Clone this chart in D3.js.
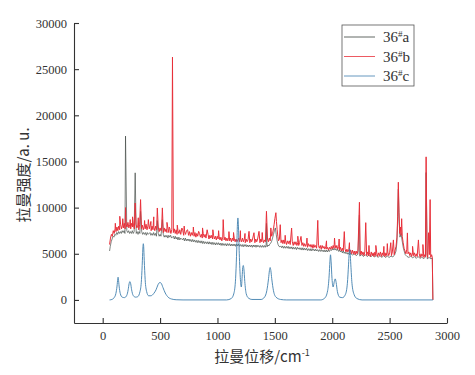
<!DOCTYPE html>
<html>
<head>
<meta charset="utf-8">
<script src="https://cdn.jsdelivr.net/npm/d3@7"></script>
<style>
  body { margin: 0; background: #fff; }
  svg { display: block; }
</style>
</head>
<body>
<div id="chart"></div>
<script>
// Series labels, in legend order.
const seriesNames = ['a', 'b', 'c'];

// 36#a spectrum (Raman shift, intensity).
const dataA = [
  [60,5300],[66,5800],[74,6300],[82,6600],[90,6900],[98,6800],[106,7100],[114,7000],[122,7300],[130,7100],
  [138,7400],[146,7200],[154,7400],[162,7200],[170,7500],[178,7300],[186,7500],[194,7200],[210,7500],
  [218,7300],[226,7500],[234,7200],[242,7400],[250,7200],[258,7500],[266,7200],[274,7400],[292,7200],
  [300,7400],[308,7100],[316,7400],[324,7200],[340,7400],[348,7100],[356,7300],[364,7100],[372,7300],
  [380,7000],[388,7300],[396,7100],[412,7300],[420,7000],[428,7200],[436,7000],[444,7300],[452,7000],
  [460,7200],[468,6900],[484,7200],[492,6900],[500,7100],[508,6900],[528,7100],[536,6800],[544,7000],
  [552,6800],[560,7000],[568,6700],[576,7000],[584,6800],[592,7000],[600,6700],[616,6900],[624,6600],
  [632,6900],[640,6600],[648,6800],[656,6500],[664,6800],[672,6500],[680,6700],[696,6500],[704,6700],
  [712,6400],[720,6700],[728,6400],[736,6600],[744,6400],[752,6600],[760,6350],[768,6550],[776,6300],
  [784,6550],[792,6300],[800,6500],[808,6250],[816,6450],[824,6200],[832,6450],[840,6200],[848,6400],
  [856,6150],[864,6400],[872,6100],[880,6350],[888,6100],[896,6300],[904,6100],[912,6300],[920,6050],
  [928,6300],[936,6050],[944,6250],[952,6000],[960,6250],[968,6000],[976,6200],[984,5950],[992,6200],
  [1000,6000],[1008,6200],[1016,5950],[1024,6150],[1032,5900],[1040,6150],[1048,5900],[1056,6100],
  [1064,5900],[1072,6100],[1080,5850],[1088,6100],[1096,5900],[1104,6100],[1112,5850],[1120,6050],
  [1128,5850],[1136,6050],[1144,5850],[1152,6050],[1160,5800],[1168,6050],[1176,5850],[1184,6050],
  [1192,5800],[1200,6000],[1208,5800],[1216,6000],[1224,5750],[1232,6000],[1240,5800],[1248,6000],
  [1256,5750],[1264,5950],[1272,5750],[1280,5950],[1288,5750],[1296,5950],[1304,5700],[1312,5950],
  [1320,5750],[1328,5950],[1336,5700],[1344,5950],[1352,5750],[1360,5900],[1368,5700],[1376,5900],
  [1384,5700],[1392,5900],[1400,5700],[1408,5900],[1416,5700],[1424,5950],[1432,5750],[1440,5950],
  [1448,5850],[1456,6050],[1464,6150],[1472,6350],[1480,6700],[1488,7100],[1496,7500],[1504,7800],
  [1512,7100],[1520,6400],[1528,6000],[1536,5800],[1544,5750],[1552,5850],[1560,5650],[1568,5850],
  [1576,5600],[1584,5800],[1592,5600],[1600,5800],[1608,5600],[1616,5800],[1624,5550],[1632,5750],
  [1640,5550],[1648,5750],[1656,5500],[1664,5700],[1672,5500],[1680,5700],[1688,5450],[1696,5700],
  [1704,5500],[1712,5650],[1720,5450],[1728,5650],[1736,5400],[1744,5650],[1752,5400],[1760,5600],
  [1768,5400],[1776,5600],[1784,5350],[1792,5550],[1800,5350],[1808,5550],[1816,5300],[1824,5550],
  [1832,5350],[1840,5500],[1848,5300],[1856,5500],[1864,5300],[1872,5450],[1880,5250],[1888,5450],
  [1896,5250],[1904,5450],[1912,5250],[1920,5400],[1928,5200],[1936,5400],[1944,5200],[1952,5400],
  [1960,5200],[1968,5400],[1976,5250],[1984,5450],[1992,5350],[2000,5550],[2008,5400],[2016,5600],
  [2024,5400],[2032,5550],[2040,5350],[2048,5500],[2056,5250],[2064,5400],[2072,5200],[2080,5350],
  [2088,5100],[2096,5300],[2104,5050],[2112,5200],[2120,5000],[2128,5150],[2136,4950],[2144,5100],
  [2152,4900],[2160,5050],[2176,4850],[2192,5000],[2208,4800],[2224,4950],[2240,4750],[2256,4900],
  [2272,4700],[2288,4900],[2304,4700],[2320,4850],[2336,4650],[2352,4850],[2368,4650],[2384,4800],
  [2400,4600],[2416,4800],[2432,4600],[2448,4800],[2464,4600],[2480,4750],[2496,4600],[2512,4750],
  [2528,4650],[2544,4900],[2556,5300],[2564,6300],[2570,8500],[2576,12000],[2582,8800],[2590,6800],
  [2600,7200],[2608,6500],[2620,5600],[2636,4900],[2652,4700],[2668,4600],[2684,4750],[2700,4550],
  [2716,4700],[2732,4500],[2748,4700],[2764,4500],[2780,4650],[2796,4450],[2812,4650],[2828,4450],
  [2844,4600],[2860,4450],[2872,4550],[2877,0]
];
// 36#a sharp lines.
const spikesA = [
  [199,17750],[283,13770],[330,9600],[476,8600],[520,8700],[1427,8300],[2237,9200],[2818,13800]
];

// 36#b spectrum.
const dataB = [
  [60,6000],[68,6700],[76,7100],[84,6900],[92,7500],[100,7200],[108,7700],[116,7400],[124,7900],[132,7500],
  [140,8000],[148,7600],[156,8200],[164,7700],[172,8100],[180,7800],[188,8300],[196,7700],[204,8200],
  [212,7900],[220,8400],[228,7800],[236,8200],[244,7700],[252,8300],[260,7900],[268,8100],[276,7700],
  [290,8200],[298,7800],[306,8100],[314,7600],[322,8200],[338,7700],[346,8100],[354,7600],[362,8000],
  [370,7700],[378,8200],[386,7600],[394,8000],[406,7700],[414,8100],[422,7500],[430,8000],[438,7600],
  [446,7900],[454,7500],[462,8000],[470,7600],[484,7900],[492,7400],[500,7800],[508,7500],[514,7900],
  [528,7300],[536,7800],[544,7400],[552,7700],[560,7300],[568,7800],[576,7300],[586,7700],[594,7200],
  [602,7600],[616,7300],[624,7700],[632,7200],[640,7600],[648,7100],[656,7500],[664,7200],[672,7600],
  [680,7100],[698,7500],[706,7000],[714,7400],[722,7100],[730,7500],[748,7000],[756,7400],[764,6900],
  [772,7300],[780,7000],[788,7400],[796,6900],[804,7300],[812,6800],[820,7200],[828,6900],[844,7200],
  [852,6800],[860,7100],[868,6700],[876,7200],[884,6800],[892,7100],[900,6700],[918,7100],[926,6600],
  [934,7000],[942,6700],[950,7000],[958,6600],[966,7000],[974,6600],[982,6900],[990,6500],[998,6900],
  [1006,6600],[1014,6900],[1022,6500],[1030,6800],[1038,6400],[1046,6800],[1058,6500],[1066,6800],
  [1074,6400],[1082,6700],[1090,6400],[1098,6800],[1106,6400],[1114,6700],[1122,6300],[1130,6700],
  [1138,6400],[1146,6700],[1154,6300],[1162,6600],[1170,6300],[1186,6700],[1194,6300],[1202,6600],
  [1210,6300],[1218,6700],[1226,6300],[1234,6600],[1242,6200],[1250,6600],[1258,6300],[1266,6500],
  [1282,6200],[1290,6600],[1298,6300],[1306,6600],[1326,6200],[1334,6600],[1342,6300],[1350,6600],
  [1370,6200],[1378,6600],[1386,6300],[1394,6600],[1402,6200],[1410,6500],[1418,6300],[1436,6600],
  [1444,6300],[1452,6700],[1460,6400],[1472,6900],[1480,7200],[1488,7700],[1494,8200],[1500,8800],
  [1509,9450],[1514,8500],[1520,7600],[1526,6900],[1532,6400],[1540,6600],[1554,6200],[1562,6500],
  [1570,6100],[1578,6500],[1586,6100],[1594,6400],[1602,6000],[1610,6400],[1618,6100],[1626,6400],
  [1634,6000],[1652,6300],[1660,5900],[1668,6300],[1676,6000],[1684,6300],[1692,5900],[1700,6200],
  [1708,5900],[1716,6200],[1736,5900],[1744,6200],[1752,5800],[1760,6100],[1768,5800],[1776,6100],
  [1784,5700],[1792,6100],[1800,5800],[1808,6000],[1816,5700],[1824,6000],[1832,5600],[1840,6000],
  [1848,5700],[1856,5900],[1864,5600],[1880,5900],[1888,5600],[1896,5900],[1904,5500],[1912,5900],
  [1920,5600],[1928,5800],[1936,5500],[1944,5800],[1952,5500],[1960,5700],[1968,5400],[1976,5700],
  [1984,5500],[1992,5800],[2000,5500],[2008,5900],[2016,5600],[2024,6000],[2032,5600],[2040,5900],
  [2048,5500],[2056,5800],[2064,5400],[2072,5700],[2080,5300],[2088,5600],[2096,5300],[2112,5500],
  [2120,5200],[2128,5500],[2136,5200],[2144,5400],[2152,5100],[2160,5400],[2168,5000],[2176,5400],
  [2184,5000],[2192,5300],[2200,4900],[2208,5300],[2216,5000],[2224,5300],[2244,4900],[2252,5300],
  [2260,4900],[2268,5200],[2276,4800],[2284,5200],[2300,4800],[2308,5200],[2316,4800],[2324,5100],
  [2332,4700],[2340,5200],[2348,4800],[2356,5100],[2364,4700],[2372,5200],[2380,4800],[2388,5100],
  [2396,4700],[2404,5100],[2412,4800],[2420,5200],[2428,4700],[2436,5100],[2444,4800],[2452,5200],
  [2460,4700],[2468,5100],[2476,4800],[2484,5200],[2492,4800],[2500,5100],[2516,4800],[2524,5200],
  [2540,4900],[2548,5400],[2556,5800],[2564,6800],[2570,9000],[2576,12750],[2582,9500],[2588,7200],
  [2594,7900],[2600,7000],[2605,8800],[2610,6900],[2618,6200],[2626,5600],[2634,5300],[2642,5000],
  [2650,5500],[2660,5000],[2668,5200],[2676,4800],[2684,5100],[2692,4700],[2700,5100],[2708,4800],
  [2716,5100],[2724,4700],[2732,5000],[2740,4700],[2758,5000],[2766,4600],[2774,5000],[2782,4700],
  [2790,5000],[2798,4600],[2806,4900],[2812,4700],[2826,4900],[2832,4600],[2846,4900],[2858,4600],
  [2866,4900],[2872,4600],[2877,0]
];
// 36#b sharp lines.
const spikesB = [
  [110,8300],[149,9060],[175,8800],[199,10000],[240,8700],[260,9000],[283,10500],[310,8900],
  [330,10870],[365,8600],[398,8700],[420,8500],[445,9000],[476,9960],[520,9970],[560,8400],
  [580,7900],[608,26300],[650,8100],[690,7790],[710,8000],[740,7600],[790,7900],[836,7430],
  [870,7800],[910,7600],[960,7600],[1010,7500],[1050,8700],[1100,7400],[1140,7300],[1200,7500],
  [1240,7200],[1275,7430],[1318,7280],[1362,7430],[1390,7300],[1427,9600],[1465,7800],[1547,8150],
  [1590,7000],[1646,7790],[1700,6900],[1728,6880],[1780,6700],[1874,8620],[1950,6400],[2020,6700],
  [2060,6600],[2105,7400],[2150,6200],[2237,10580],[2292,8370],[2320,5900],[2380,5900],[2450,5800],
  [2480,6100],[2510,6200],[2533,6500],[2655,7260],[2700,5800],[2751,6500],[2790,6000],[2818,15500],
  [2839,7280],[2853,10870]
];

// 36#c band profile.
const dataC = [
  [60,0],[80,50],[100,250],[115,700],[125,1500],[131,2250],[134,2460],[137,2250],[143,1500],[153,700],
  [170,300],[190,250],[210,500],[222,1100],[230,1750],[237,1990],[244,1750],[252,1100],[265,500],
  [285,300],[305,350],[325,900],[338,2200],[346,4300],[351,5800],[354,6090],[357,5800],[362,4300],
  [370,2200],[383,900],[400,450],[420,450],[445,700],[465,1100],[482,1650],[492,1850],[500,1880],
  [510,1800],[525,1350],[545,750],[570,300],[600,100],[640,20],[700,0],[1080,0],[1120,150],[1145,800],
  [1160,2800],[1168,5500],[1174,8200],[1178,8880],[1182,8200],[1190,5000],[1200,2200],[1208,1400],
  [1215,2500],[1220,3500],[1225,3730],[1230,3400],[1238,2000],[1250,700],[1270,200],[1300,50],
  [1380,50],[1410,300],[1430,1000],[1445,2300],[1453,3200],[1459,3510],[1465,3200],[1473,2300],
  [1488,1000],[1510,300],[1550,50],[1600,0],[1900,0],[1935,200],[1960,1000],[1973,2600],[1980,4200],
  [1985,4890],[1990,4200],[1998,2300],[2008,1400],[2018,2000],[2026,2280],[2034,1900],[2045,900],
  [2065,300],[2090,250],[2115,600],[2132,1800],[2142,3800],[2148,5100],[2152,5500],[2156,5100],
  [2162,3800],[2172,1800],[2190,600],[2215,150],[2260,0],[2877,0]
];

const xTicks = [0, 500, 1000, 1500, 2000, 2500, 3000];
const yTicks = [0, 5000, 10000, 15000, 20000, 25000, 30000];

const width = 475;
const height = 375;
const plot = {left: 74, right: 447, top: 23, bottom: 323};
const colors = {a: '#3a423e', b: '#e8303a', c: '#3f7fae'};
const widths = {a: 0.65, b: 1, c: 0.9};
const tickFont = 'Liberation Serif, Times New Roman, serif';
const cjkFont = 'Noto Sans CJK SC, Noto Sans, sans-serif';

const svg = d3.select('#chart').append('svg')
  .attr('width', width)
  .attr('height', height);

const x = d3.scaleLinear().domain([-250, 3000]).range([plot.left, plot.right]);
const y = d3.scaleLinear().domain([-2500, 30000]).range([plot.bottom, plot.top]);

// merge the sharp lines into each spectrum so they come out as thin spikes
const withSpikes = (base, spikes) =>
  base.concat(spikes).sort((p, q) => p[0] - q[0]);

const series = [
  {name: 'a', values: withSpikes(dataA, spikesA), curve: d3.curveLinear},
  {name: 'b', values: withSpikes(dataB, spikesB), curve: d3.curveLinear},
  {name: 'c', values: dataC, curve: d3.curveMonotoneX},
];

series.forEach((s) => {
  const line = d3.line()
    .x((d) => x(d[0]))
    .y((d) => y(d[1]))
    .curve(s.curve);
  svg.append('path')
    .datum(s.values)
    .attr('fill', 'none')
    .attr('stroke', colors[s.name])
    .attr('stroke-width', widths[s.name])
    .attr('stroke-linejoin', 'round')
    .attr('d', line);
});

// Axes, ticks pointing inward.
const xAxis = svg.append('g')
  .attr('transform', `translate(0,${plot.bottom})`)
  .call(d3.axisBottom(x).tickValues(xTicks).tickSizeInner(-5).tickSizeOuter(0).tickPadding(8)
    .tickFormat(d3.format('d')));

const yAxis = svg.append('g')
  .attr('transform', `translate(${plot.left},0)`)
  .call(d3.axisLeft(y).tickValues(yTicks).tickSizeInner(-5).tickSizeOuter(0).tickPadding(7)
    .tickFormat(d3.format('d')));

[xAxis, yAxis].forEach((g) => {
  g.attr('font-family', tickFont).attr('font-size', 12.5);
  g.select('.domain').attr('stroke', '#333').attr('stroke-width', 1.1);
  g.selectAll('.tick line').attr('stroke', '#333').attr('stroke-width', 1.1);
  g.selectAll('.tick text').attr('fill', '#333');
});

// Axis titles.
const xTitle = svg.append('text')
  .attr('x', 262)
  .attr('y', 362)
  .attr('text-anchor', 'middle')
  .attr('fill', '#333')
  .attr('font-family', cjkFont)
  .attr('font-size', 15);
xTitle.append('tspan').text('拉曼位移/cm');
xTitle.append('tspan').attr('dy', -6).attr('font-size', 9).text('-1');

svg.append('text')
  .attr('transform', 'translate(29,175) rotate(-90)')
  .attr('text-anchor', 'middle')
  .attr('fill', '#333')
  .attr('font-family', cjkFont)
  .attr('font-size', 15)
  .text('拉曼强度/a. u.');

// Legend.
const legend = svg.append('g').attr('transform', 'translate(342,25)');
legend.append('rect')
  .attr('width', 72)
  .attr('height', 61)
  .attr('fill', '#fff')
  .attr('stroke', '#555')
  .attr('stroke-width', 0.8);

seriesNames.forEach((name, i) => {
  const yy = 12 + i * 19.5;
  legend.append('line')
    .attr('x1', 2).attr('x2', 33)
    .attr('y1', yy).attr('y2', yy)
    .attr('stroke', colors[name])
    .attr('stroke-width', 0.8);
  const t = legend.append('text')
    .attr('x', 41)
    .attr('y', yy + 5)
    .attr('fill', '#333')
    .attr('font-family', tickFont)
    .attr('font-size', 15);
  t.append('tspan').text('36');
  t.append('tspan').attr('dy', -5).attr('font-size', 9).text('#');
  t.append('tspan').attr('dy', 5).text(name);
});
</script>
</body>
</html>
